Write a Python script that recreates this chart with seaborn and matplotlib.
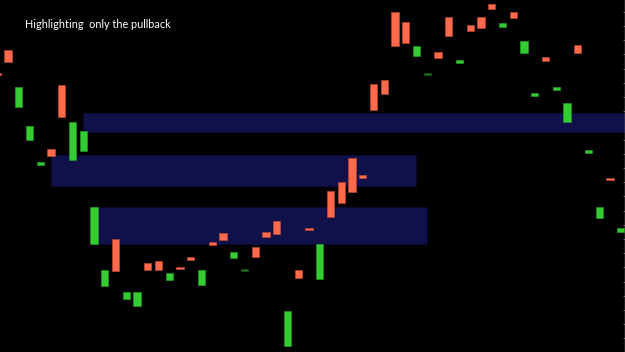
import numpy as np
import pandas as pd
import matplotlib
matplotlib.use("Agg")
import matplotlib.pyplot as plt
import seaborn as sns

# Candle bodies (price units), index -1..57
bar_index = list(range(-1, 58))
opens = [279, 302, 245, 212, 187, 203, 267, 192, 201, 108, 66, 113, 53, 46, 89, 91, 72, 85, 95, 67,
         110, 119, 94, 82, 105, 120, 131, 6, 82, 124, 73, 161, 170, 194, 177, 268, 272, 340, 330, 296,
         278, 300, 335, 289, 327, 335, 348, 325, 340, 299, 256, 295, 262, 230, 307, 199, 134, 174, 120]
closes = [277, 290, 265, 226, 190, 196, 235, 230, 221, 145, 82, 81, 60, 60, 82, 82, 79, 83, 92, 82,
          107, 112, 100, 82, 95, 115, 118, 41, 74, 122.5, 108, 135, 149, 160, 174, 242, 258, 306, 309, 306,
          278, 294, 316, 292, 321, 324, 343, 329, 334, 311, 259, 291, 265, 249, 299, 202, 145, 172, 124]

# Highlighted pullback zones
zone_start = [7, 4, 8]
zone_end = [57.35, 38, 39]
zone_low = [220.3, 165.7, 108]
zone_high = [238.7, 196.7, 145.3]

title_text = "Highlighting  only the pullback"

df = pd.DataFrame({"i": bar_index, "open": opens, "close": closes})
df["low"] = df[["open", "close"]].min(axis=1)
df["body"] = (df["close"] - df["open"]).abs()

RED = "#FF6A4C"
GREEN = "#33CC33"
DOJI = "#1E7A1E"
ZONE = "#10104A"

def color(r):
    if r.close > r.open:
        return GREEN
    if r.close < r.open:
        return RED
    return DOJI

def edge(c):
    return {RED: "#B8452F", GREEN: "#229922", DOJI: "#145214"}[c]

df["color"] = df.apply(color, axis=1)

sns.set_theme(style="dark", rc={"axes.facecolor": "black", "figure.facecolor": "black"})

fig = plt.figure(figsize=(6.25, 3.52), dpi=100)
ax = fig.add_axes([0, 0, 624.5 / 625, 1])
ax.set_facecolor("black")

# zones
for s, e, lo, hi in zip(zone_start, zone_end, zone_low, zone_high):
    ax.barh(y=(lo + hi) / 2, width=e - s, left=s, height=hi - lo, color=ZONE,
            edgecolor="#0A0A33", linewidth=0.6, align="center", zorder=1)

# candle bodies
heights = np.maximum(df["body"].values, 1.8)
bottoms = np.where(df["body"].values < 1.8, df["low"].values - 0.9 + df["body"].values / 2, df["low"].values)
ax.bar(df["i"], heights, bottom=bottoms, width=0.68, color=df["color"],
       edgecolor=[edge(c) for c in df["color"]], linewidth=0.5, zorder=3)

ax.set_xlim(-8 / 10.75, -8 / 10.75 + 624.5 / 10.75)
ax.set_ylim(0, 352)
ax.set_xticks([])
ax.yaxis.tick_right()
ax.set_yticks(np.arange(13.7, 341, 14.2))
ax.tick_params(axis="y", direction="in", length=1.5, color="#7A7A7A", width=0.6,
               labelright=False, right=True, left=False)
for sp in ["left", "top", "bottom"]:
    ax.spines[sp].set_visible(False)
ax.spines["right"].set_visible(True)
ax.spines["right"].set_color("#9A9A9A")
ax.spines["right"].set_linewidth(1.0)
ax.grid(False)

fig.text(25 / 625, 1 - 28.5 / 352, title_text, color="white", fontsize=7.8,
         family=["Lato", "DejaVu Sans"], ha="left", va="baseline")

fig.savefig("out.png", dpi=100, facecolor="black")
